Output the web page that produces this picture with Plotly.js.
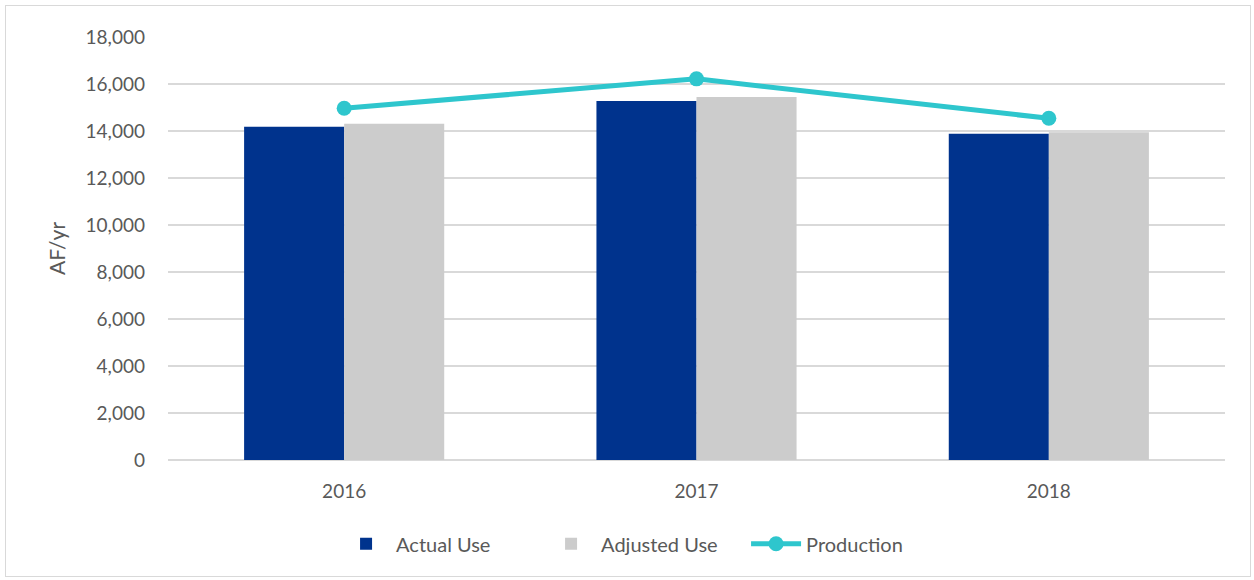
<!DOCTYPE html>
<html>
<head>
<meta charset="utf-8">
<script src="https://cdn.plot.ly/plotly-3.0.1.min.js"></script>
<style>
  html, body { margin: 0; padding: 0; background: #fff; }
  #wrap { position: relative; width: 1254px; height: 580px; }
  #chart { position: absolute; left: 0; top: 0; width: 1254px; height: 580px; }
  #frame { position: absolute; left: 5px; top: 5px; width: 1246px; height: 572px;
           border: 1.5px solid #d9d9d9; pointer-events: none; box-sizing: border-box; }
</style>
</head>
<body>
<div id="wrap">
  <div id="chart"></div>
  <div id="frame"></div>
</div>
<script>
const years = ["2016", "2017", "2018"];
const actualUse = [14180, 15280, 13880];
const adjustedUse = [14310, 15450, 13950];
const production = [14970, 16220, 14540];
const yTicks = [0, 2000, 4000, 6000, 8000, 10000, 12000, 14000, 16000, 18000];

const fontFam = "Lato, 'Open Sans', sans-serif";
const textColor = "#595959";

const data = [
  { type: "bar", name: "Actual Use", x: years, y: actualUse,
    marker: { color: "#00338D" }, hoverinfo: "y" },
  { type: "bar", name: "Adjusted Use", x: years, y: adjustedUse,
    marker: { color: "#CCCCCC" }, hoverinfo: "y" },
  { type: "scatter", mode: "lines+markers", name: "Production", x: years, y: production,
    line: { color: "#2EC6CD", width: 5 }, marker: { color: "#2EC6CD", size: 15 } }
];

const layout = {
  width: 1254, height: 580,
  margin: { l: 168, r: 29, t: 37, b: 120 },
  paper_bgcolor: "#ffffff", plot_bgcolor: "#ffffff",
  font: { family: fontFam, color: textColor, size: 18 },
  barmode: "group", bargap: 0.432, bargroupgap: 0,
  showlegend: true,
  legend: { orientation: "h", x: 0.159, xanchor: "left", y: -0.198, yanchor: "middle",
            itemwidth: 50, entrywidth: 140, entrywidthmode: "pixels",
            font: { size: 20, color: textColor }, traceorder: "normal" },
  xaxis: { type: "category", range: [-0.5, 2.5], showgrid: false, zeroline: false,
           showline: false, ticks: "", ticklabelstandoff: 18,
           tickfont: { size: 19, color: textColor } },
  yaxis: { range: [0, 18000], tickvals: yTicks, tickformat: ",d",
           showgrid: true, gridcolor: "#d9d9d9", gridwidth: 1.5,
           zeroline: true, zerolinecolor: "#d9d9d9", zerolinewidth: 1.5,
           ticks: "", ticklabelstandoff: 22, tickfont: { size: 19, color: textColor },
           title: { text: "AF/yr", font: { size: 21, color: textColor }, standoff: 14 } }
};

Plotly.newPlot("chart", data, layout, { displayModeBar: false, staticPlot: true });
</script>
</body>
</html>
